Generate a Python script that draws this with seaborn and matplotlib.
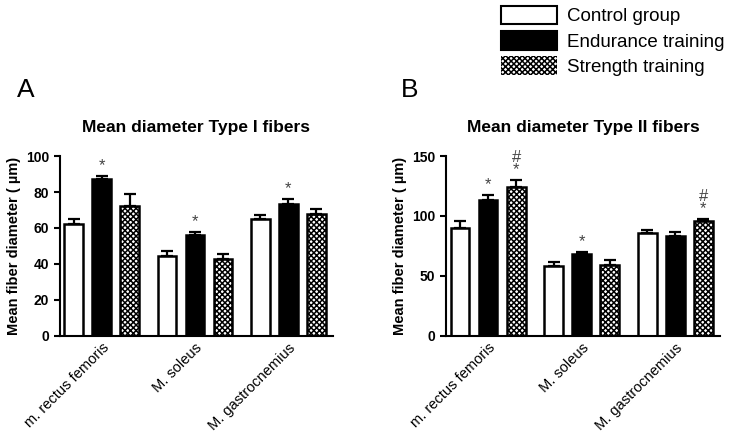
import matplotlib.pyplot as plt
import matplotlib.patches as mpatches
import pandas as pd
import seaborn as sns

muscles = ['m. rectus femoris', 'M. soleus', 'M. gastrocnemius']
groups = ['Control group', 'Endurance training', 'Strength training']

# panel A - type I fibers
a_ctrl = [62, 44.5, 65]
a_end = [87, 56, 73.5]
a_str = [72, 42.5, 68]
a_ctrl_sem = [3, 2.5, 2]
a_end_sem = [2, 2, 2.5]
a_str_sem = [7, 3, 2.5]
a_marks = [['', '', ''], ['*', '*', '*'], ['', '', '']]

# panel B - type II fibers
b_ctrl = [90, 58.5, 85.5]
b_end = [113, 68.5, 83]
b_str = [124.5, 59, 95.5]
b_ctrl_sem = [5.5, 3.5, 2.5]
b_end_sem = [4.5, 1.5, 4]
b_str_sem = [5.5, 4, 2]
b_marks = [['', '', ''], ['*', '*', ''], ['#\n*', '', '#\n*']]

sns.set_style("ticks")
plt.rcParams['font.family'] = ['Liberation Sans', 'DejaVu Sans']
plt.rcParams['hatch.linewidth'] = 1.1
plt.rcParams['text.color'] = 'black'
plt.rcParams['axes.labelcolor'] = 'black'
plt.rcParams['xtick.color'] = 'black'
plt.rcParams['ytick.color'] = 'black'
plt.rcParams['axes.edgecolor'] = 'black'

fig = plt.figure(figsize=(7.47, 4.42), dpi=100)
ax_a = fig.add_axes([0.080, 0.240, 0.366, 0.407])
ax_b = fig.add_axes([0.597, 0.240, 0.367, 0.407])

HATCH = 'xxxxxx'


def make_df(vals, sems):
    rows = []
    for g, v, s in zip(groups, vals, sems):
        for m, vv, ss in zip(muscles, v, s):
            rows.append({'Muscle': m, 'Group': g, 'Mean': vv, 'SEM': ss})
    return pd.DataFrame(rows)


def draw_panel(ax, df, marks, ymax, yticks, title):
    sns.barplot(data=df, x='Muscle', y='Mean', hue='Group', hue_order=groups,
                order=muscles, palette=['white', 'black', 'white'],
                width=0.9, gap=0.33, edgecolor='black', linewidth=1.8,
                errorbar=None, legend=False, ax=ax)
    bar_sets = list(ax.containers)
    for gi, cont in enumerate(bar_sets):
        sub = df[df['Group'] == groups[gi]]
        for bar, (_, row), mk in zip(cont.patches, sub.iterrows(), marks[gi]):
            if gi == 2:
                bar.set_hatch(HATCH)
            xc = bar.get_x() + bar.get_width() / 2
            ax.errorbar(xc, row['Mean'], yerr=[[0], [row['SEM']]], color='black',
                        elinewidth=1.6, capsize=4, capthick=1.6, zorder=1)
            if mk:
                ax.annotate(mk, (xc, row['Mean'] + row['SEM']), xytext=(0, 2),
                            textcoords='offset points', ha='center', va='bottom',
                            fontsize=12, color='#444444', linespacing=0.8)
    ax.set_ylim(0, ymax)
    ax.set_xlim(-0.45, 2.48)
    ax.set_yticks(yticks)
    ax.set_xlabel('')
    ax.set_ylabel('Mean fiber diameter ( µm)', fontsize=10.5, fontweight='bold')
    ax.set_title(title, fontsize=12.5, fontweight='bold', pad=17)
    for sp in ['top', 'right']:
        ax.spines[sp].set_visible(False)
    for sp in ['left', 'bottom']:
        ax.spines[sp].set_linewidth(1.5)
    ax.tick_params(axis='y', width=1.5, length=4, labelsize=10)
    ax.tick_params(axis='x', length=0, labelsize=10.5)
    for lab in ax.get_yticklabels():
        lab.set_fontweight('bold')
    plt.setp(ax.get_xticklabels(), rotation=45, ha='right', rotation_mode='anchor')


draw_panel(ax_a, make_df([a_ctrl, a_end, a_str], [a_ctrl_sem, a_end_sem, a_str_sem]),
           a_marks, 100, [0, 20, 40, 60, 80, 100], 'Mean diameter Type I fibers')
draw_panel(ax_b, make_df([b_ctrl, b_end, b_str], [b_ctrl_sem, b_end_sem, b_str_sem]),
           b_marks, 150, [0, 50, 100, 150], 'Mean diameter Type II fibers')

fig.text(0.023, 0.78, 'A', fontsize=19)
fig.text(0.537, 0.78, 'B', fontsize=19)

handles = [mpatches.Patch(facecolor='white', edgecolor='black', linewidth=1.5),
           mpatches.Patch(facecolor='black', edgecolor='black', linewidth=1.5),
           mpatches.Patch(facecolor='white', edgecolor='black', linewidth=0, hatch=HATCH)]
fig.legend(handles, groups, loc='upper left', bbox_to_anchor=(0.648, 1.025),
           frameon=False, fontsize=13.5, handlelength=3.0, handleheight=1.15,
           labelspacing=0.3, handletextpad=0.55)

plt.savefig('out.png', dpi=100)
